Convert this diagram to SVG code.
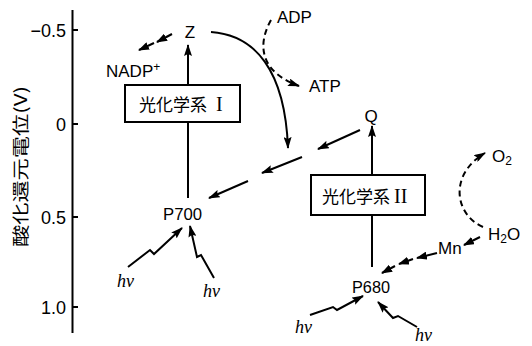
<svg xmlns="http://www.w3.org/2000/svg" width="532" height="346" viewBox="0 0 532 346">
  <style>
    .lbl { font-family: "Liberation Sans", Arial, sans-serif; font-size: 17px; fill: #000; }
    .tick { font-family: "Liberation Sans", Arial, sans-serif; font-size: 18px; fill: #000; text-anchor: end; }
    .cjk { font-family: "Noto Sans CJK JP", "Noto Sans CJK SC", sans-serif; font-size: 17px; fill: #000; }
    .roman { font-family: "Liberation Serif", "Times New Roman", serif; font-size: 20px; }
    .hv { font-family: "Liberation Serif", "Times New Roman", serif; font-style: italic; font-size: 18px; fill: #000; }
    .box { fill: #fff; stroke: #000; stroke-width: 2; }
    .line { fill: none; stroke: #000; stroke-width: 2; }
    .arr { fill: none; stroke: #000; stroke-width: 2; marker-end: url(#ah); }
    .dash { fill: none; stroke: #000; stroke-width: 2; stroke-dasharray: 6 4; marker-end: url(#ah); }
    .wedge { fill: none; stroke: #000; stroke-width: 2; marker-end: url(#wh); }
  </style>
  <defs>
    <marker id="ah" markerUnits="userSpaceOnUse" markerWidth="12" markerHeight="8" refX="11" refY="4" orient="auto">
      <path d="M0,0 L12,4 L0,8 L2,4 z" fill="#000"/>
    </marker>
    <marker id="wh" markerUnits="userSpaceOnUse" markerWidth="11" markerHeight="8" refX="10" refY="4" orient="auto">
      <path d="M0,0 L11,4 L0,8 z" fill="#000"/>
    </marker>
  </defs>

  <rect width="532" height="346" fill="#fff"/>

  <!-- potential axis -->
  <g id="axis">
    <line class="line" x1="72.5" y1="10" x2="72.5" y2="333" stroke-width="1.6"/>
    <line class="line" x1="72.5" y1="30" x2="78" y2="30" stroke-width="1.6"/>
    <line class="line" x1="72.5" y1="124" x2="78" y2="124" stroke-width="1.6"/>
    <line class="line" x1="72.5" y1="217" x2="78" y2="217" stroke-width="1.6"/>
    <line class="line" x1="72.5" y1="307" x2="78" y2="307" stroke-width="1.6"/>
    <text class="tick" x="66" y="37">−0.5</text>
    <text class="tick" x="66" y="131">0</text>
    <text class="tick" x="66" y="224">0.5</text>
    <text class="tick" x="66" y="314">1.0</text>
    <text class="cjk" transform="translate(27,247) rotate(-90)" textLength="161" lengthAdjust="spacingAndGlyphs">酸化還元電位(V)</text>
  </g>

  <!-- connectors -->
  <g id="connectors">
    <line class="arr" x1="188" y1="85" x2="188" y2="45"/>
    <line class="line" x1="188" y1="122" x2="188" y2="198"/>
    <line class="wedge" x1="172" y1="34" x2="157" y2="42"/>
    <line class="wedge" x1="154" y1="43" x2="139" y2="50"/>
    <path class="arr" d="M211,32 C255,35 285,70 288,148"/>
    <path class="dash" d="M271,20 C257,45 260,72 299,86"/>
    <line class="arr" x1="372" y1="175" x2="372" y2="126"/>
    <line class="line" x1="372" y1="215" x2="372" y2="267"/>
    <line class="arr" x1="360" y1="130" x2="318" y2="149"/>
    <line class="arr" x1="302" y1="157" x2="262" y2="173"/>
    <line class="arr" x1="248" y1="181" x2="209" y2="198"/>
    <path class="arr" d="M128,267 L150,250 L154,254 L182,228"/>
    <path class="arr" d="M214,278 L201,255 L197,257 L190,226"/>
    <path class="arr" d="M310,315 L333,307 L337,310 L363,296"/>
    <path class="arr" d="M417,327 L398,316 L393,318 L378,302"/>
    <path class="dash" d="M483,227 C455,215 448,175 485,153"/>
    <line class="wedge" x1="480" y1="237" x2="464" y2="245"/>
    <line class="wedge" x1="437" y1="253" x2="417" y2="258"/>
    <line class="wedge" x1="413" y1="259" x2="399" y2="264"/>
    <line class="wedge" x1="395" y1="266" x2="382" y2="273"/>
  </g>

  <g id="Z"><text class="lbl" x="190" y="38" text-anchor="middle">Z</text></g>
  <g id="NADP"><text class="lbl" x="106" y="77">NADP<tspan font-size="12" dy="-6">+</tspan></text></g>
  <g id="ADP"><text class="lbl" x="277" y="23">ADP</text></g>
  <g id="ATP"><text class="lbl" x="309" y="92">ATP</text></g>

  <g id="PS1">
    <rect class="box" x="125" y="85" width="115" height="37"/>
    <text class="cjk" x="139" y="111">光化学系<tspan class="roman" dx="9">I</tspan></text>
  </g>
  <g id="P700"><text class="lbl" x="163" y="220" font-size="19" textLength="39" lengthAdjust="spacingAndGlyphs">P700</text></g>

  <g id="Q"><text class="lbl" x="371" y="122" text-anchor="middle">Q</text></g>
  <g id="PS2">
    <rect class="box" x="311" y="175" width="114" height="40"/>
    <text class="cjk" x="322" y="203">光化学系<tspan class="roman" dx="4">II</tspan></text>
  </g>
  <g id="P680"><text class="lbl" x="352" y="293" font-size="18" textLength="38" lengthAdjust="spacingAndGlyphs">P680</text></g>

  <g id="O2"><text class="lbl" x="492" y="162">O<tspan font-size="12" dy="3">2</tspan></text></g>
  <g id="H2O"><text class="lbl" x="488" y="240">H<tspan font-size="12" dy="3">2</tspan><tspan dy="-3">O</tspan></text></g>
  <g id="Mn"><text class="lbl" x="438" y="254">Mn</text></g>

  <g id="hv1"><text class="hv" x="117" y="287">hν</text></g>
  <g id="hv2"><text class="hv" x="203" y="297">hν</text></g>
  <g id="hv3"><text class="hv" x="295" y="333">hν</text></g>
  <g id="hv4"><text class="hv" x="415" y="341">hν</text></g>
</svg>
